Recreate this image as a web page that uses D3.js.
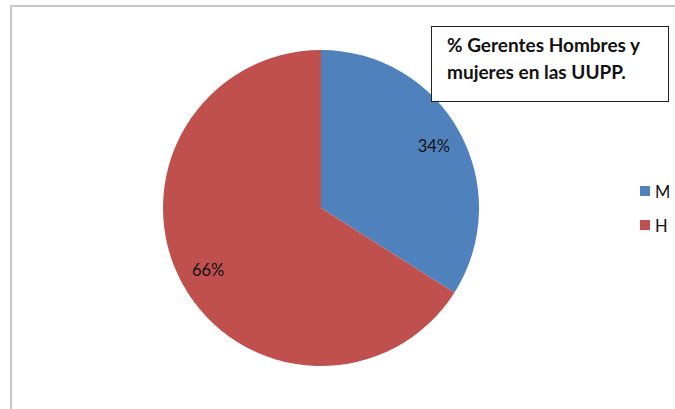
<!DOCTYPE html>
<html>
<head>
<meta charset="utf-8">
<script src="https://cdn.jsdelivr.net/npm/d3@7"></script>
<style>
  body { margin: 0; background: #fff; }
  svg { display: block; }
</style>
</head>
<body>
<div class="chart"></div>
<script>
// data
const categories = ['M', 'H'];
const values = [34, 66];
const colors = ['#4F81BD', '#C0504D'];
const titleLines = ['% Gerentes Hombres y', 'mujeres en las UUPP.'];

const width = 675, height = 409;
const cx = 321, cy = 208, radius = 158;

const svg = d3.select('.chart')
    .append('svg')
    .attr('width', width)
    .attr('height', height);

// chart frame (only left and top visible)
svg.append('rect')
    .attr('x', 11)
    .attr('y', 6)
    .attr('width', 700)
    .attr('height', 420)
    .attr('fill', 'white')
    .attr('stroke', '#c8c8c8')
    .attr('stroke-width', 2);

const colorScale = d3.scaleOrdinal()
    .domain(categories)
    .range(colors);

const data = categories.map((c, i) => ({cat: c, value: values[i]}));

const pie = d3.pie()
    .sort(null)
    .value(d => d.value);

const arc = d3.arc()
    .innerRadius(0)
    .outerRadius(radius);

const labelArc = d3.arc()
    .innerRadius(radius * 0.815)
    .outerRadius(radius * 0.815);

const g = svg.append('g')
    .attr('transform', `translate(${cx},${cy})`);

const arcs = pie(data);

g.selectAll('path')
    .data(arcs)
    .enter()
    .append('path')
    .attr('d', arc)
    .attr('fill', d => colorScale(d.data.cat));

g.selectAll('.lbl')
    .data(arcs)
    .enter()
    .append('text')
    .attr('class', 'lbl')
    .attr('transform', d => `translate(${labelArc.centroid(d)})`)
    .attr('text-anchor', 'middle')
    .attr('dy', '0.36em')
    .attr('font-family', 'Lato, "Open Sans", sans-serif')
    .attr('font-size', 16.5)
    .attr('fill', '#111')
    .text(d => d.data.value + '%');

// title box
svg.append('rect')
    .attr('x', 431.5)
    .attr('y', 26.5)
    .attr('width', 237)
    .attr('height', 75)
    .attr('fill', 'white')
    .attr('stroke', '#222')
    .attr('stroke-width', 1);

svg.selectAll('.title')
    .data(titleLines)
    .enter()
    .append('text')
    .attr('class', 'title')
    .attr('x', 447)
    .attr('y', (d, i) => 52 + i * 27)
    .attr('font-family', 'Lato, "Open Sans", sans-serif')
    .attr('font-weight', 'bold')
    .attr('font-size', 19)
    .attr('fill', '#111')
    .text(d => d);

// legend
const legend = svg.append('g')
    .attr('transform', 'translate(640,186)');

legend.selectAll('rect')
    .data(categories)
    .enter()
    .append('rect')
    .attr('x', 0)
    .attr('y', (d, i) => i * 34)
    .attr('width', 10)
    .attr('height', 10)
    .attr('fill', d => colorScale(d));

legend.selectAll('text')
    .data(categories)
    .enter()
    .append('text')
    .attr('x', 15)
    .attr('y', (d, i) => i * 34 + 12)
    .attr('font-family', 'Lato, "Open Sans", sans-serif')
    .attr('font-size', 16.5)
    .attr('fill', '#111')
    .text(d => d);
</script>
</body>
</html>
